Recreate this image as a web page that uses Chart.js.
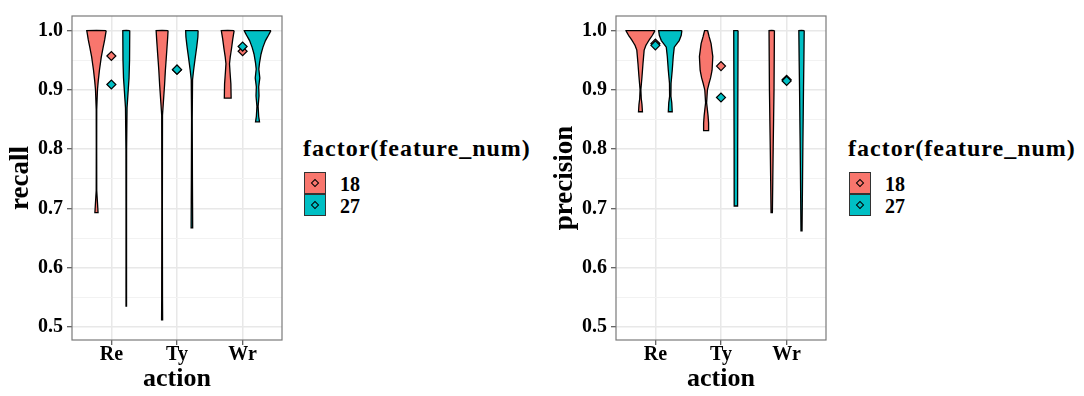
<!DOCTYPE html>
<html>
<head>
<meta charset="utf-8">
<script src="https://cdn.jsdelivr.net/npm/chart.js@4.4.1/dist/chart.umd.min.js"></script>
<style>
  html, body { margin: 0; padding: 0; background: #fff; }
  body { width: 1084px; height: 396px; position: relative; overflow: hidden;
         font-family: "Liberation Serif", "Times New Roman", serif; font-weight: bold; color: #000; }
  .panel { position: absolute; top: 0; width: 290px; height: 396px; }
  .legend { position: absolute; top: 0; width: 236px; height: 396px; }
  .legend .title { position: absolute; left: 0; top: 136px; font-size: 24px; line-height: 24px;
                   letter-spacing: 1px; white-space: nowrap; }
  .legend .key { position: absolute; left: 1px; width: 22px; height: 22px; box-sizing: border-box;
                 border: 1px solid #333; }
  .legend .key::after { content: ''; position: absolute; left: 50%; top: 50%; width: 4px; height: 4px;
                        border: 1px solid #000; transform: translate(-50%, -50%) rotate(45deg); }
  .legend .lab { position: absolute; left: 37px; font-size: 20px; line-height: 22px; }
</style>
</head>
<body>
<div class="panel" style="left:0px"><canvas id="recallChart" width="290" height="396"></canvas></div>
<div class="legend" id="recallLegend" style="left:303px"></div>
<div class="panel" style="left:544px"><canvas id="precisionChart" width="290" height="396"></canvas></div>
<div class="legend" id="precisionLegend" style="left:848px"></div>

<script>
const actions = ['Re', 'Ty', 'Wr'];
const featureNums = ['18', '27'];
const legendTitle = 'factor(feature_num)';
const fillColors = ['#F8766D', '#00BFC4'];

const yTickValues = [0.5, 0.6, 0.7, 0.8, 0.9, 1.0];
const yTickLabels = ['0.5', '0.6', '0.7', '0.8', '0.9', '1.0'];
const yMinorValues = [0.55, 0.65, 0.75, 0.85, 0.95];

// mean markers, one per action
const recallMean18 = [0.957, 0.934, 0.965];
const recallMean27 = [0.909, 0.934, 0.973];
const precisionMean18 = [0.978, 0.940, 0.917];
const precisionMean27 = [0.975, 0.887, 0.915];

// violin profiles: [value, half width of density (category units)], top to bottom
const recallRe18 = [[1.0, 0.148], [0.985, 0.126], [0.972, 0.102], [0.955, 0.073], [0.933, 0.045], [0.915, 0.027],
                    [0.9, 0.015], [0.867, 0.004], [0.8, 0.003], [0.73, 0.004], [0.71, 0.015], [0.693, 0.024]];
const recallRe27 = [[1.0, 0.053], [0.95, 0.05], [0.92, 0.042], [0.9, 0.03], [0.87, 0.012], [0.8, 0.005],
                    [0.7, 0.004], [0.6, 0.004], [0.535, 0.004]];
const recallTy18 = [[1.0, 0.091], [0.985, 0.083], [0.961, 0.068], [0.933, 0.05], [0.909, 0.038], [0.88, 0.02],
                    [0.857, 0.006], [0.7, 0.004], [0.55, 0.006], [0.512, 0.008]];
const recallTy27 = [[1.0, 0.095], [0.989, 0.091], [0.972, 0.073], [0.956, 0.053], [0.933, 0.026], [0.917, 0.01],
                    [0.85, 0.005], [0.75, 0.008], [0.667, 0.012]];
const recallWr18 = [[1.0, 0.098], [0.985, 0.076], [0.97, 0.058], [0.955, 0.038], [0.944, 0.027], [0.93, 0.035],
                    [0.91, 0.048], [0.886, 0.052]];
const recallWr27 = [[1.0, 0.205], [0.992, 0.167], [0.983, 0.121], [0.972, 0.083], [0.96, 0.053], [0.945, 0.03],
                    [0.935, 0.02], [0.92, 0.035], [0.905, 0.018], [0.89, 0.023], [0.872, 0.009], [0.855, 0.018],
                    [0.846, 0.03]];

const precisionRe18 = [[1.0, 0.223], [0.992, 0.182], [0.983, 0.126], [0.975, 0.083], [0.967, 0.056], [0.944, 0.038],
                       [0.922, 0.023], [0.9, 0.006], [0.885, 0.012], [0.875, 0.023], [0.863, 0.03]];
const precisionRe27 = [[1.0, 0.177], [0.992, 0.167], [0.983, 0.136], [0.972, 0.061], [0.956, 0.045], [0.933, 0.03],
                       [0.911, 0.012], [0.889, 0.01], [0.878, 0.023], [0.863, 0.03]];
const precisionTy18 = [[1.0, 0.023], [0.99, 0.045], [0.978, 0.076], [0.956, 0.102], [0.933, 0.091], [0.92, 0.068],
                       [0.911, 0.045], [0.9, 0.02], [0.878, 0.008], [0.856, 0.03], [0.844, 0.038], [0.831, 0.038]];
const precisionTy27 = [[1.0, 0.033], [0.9, 0.03], [0.8, 0.027], [0.704, 0.026]];
const precisionWr18 = [[1.0, 0.041], [0.9, 0.035], [0.8, 0.022], [0.693, 0.01]];
const precisionWr27 = [[1.0, 0.041], [0.95, 0.036], [0.9, 0.03], [0.8, 0.02], [0.662, 0.008]];

const dodge = 0.227;
const serif = '"Liberation Serif", "Times New Roman", serif';
Chart.defaults.font.family = serif;
Chart.defaults.color = '#000';

function violinPoints(profile, centre) {
    const right = profile.map(p => ({x: centre + p[1], y: p[0]}));
    const left = profile.slice().reverse().map(p => ({x: centre - p[1], y: p[0]}));
    return right.concat(left, [right[0]]);
}

function violinSet(profile, centre, g) {
    return {
        data: violinPoints(profile, centre),
        showLine: true,
        fill: 'shape',
        tension: 0.0001,   // keeps Chart.js off its min/max fast path, so outlines stay exact
        capBezierPoints: false,
        backgroundColor: fillColors[g],
        borderColor: '#000',
        borderWidth: 1.3,
        borderJoinStyle: 'miter',
        pointRadius: 0
    };
}

function meanSet(means, g) {
    return {
        data: means.map((m, i) => ({x: i, y: m})),
        showLine: false,
        pointStyle: 'rectRot',
        pointRadius: 4.5,
        backgroundColor: fillColors[g],
        borderColor: '#000',
        borderWidth: 1.2
    };
}

function buildDatasets(v18, v27, m18, m27) {
    // first datasets are drawn on top
    const sets = [meanSet(m27, 1), meanSet(m18, 0)];
    v18.forEach((v, i) => sets.push(violinSet(v, i - dodge, 0)));
    v27.forEach((v, i) => sets.push(violinSet(v, i + dodge, 1)));
    return sets;
}

const panelBorder = {
    id: 'panelBorder',
    afterDatasetsDraw(chart) {
        const {ctx, chartArea: a} = chart;
        ctx.save();
        ctx.strokeStyle = '#7a7a7a';
        ctx.lineWidth = 1.2;
        ctx.strokeRect(a.left, a.top, a.right - a.left, a.bottom - a.top);
        ctx.restore();
    }
};

function makeOptions(yTitle) {
    return {
        responsive: false,
        animation: false,
        devicePixelRatio: 1,
        events: [],
        layout: {padding: {top: 12, right: 8, bottom: 0, left: 0}},
        plugins: {legend: {display: false}, tooltip: {enabled: false}},
        scales: {
            x: {
                type: 'linear',
                min: -0.6,
                max: 2.6,
                afterBuildTicks: s => { s.ticks = actions.map((a, i) => ({value: i})); },
                afterFit: s => { s.height = 56; },
                ticks: {
                    callback: v => actions[v],
                    autoSkip: false,
                    maxRotation: 0,
                    padding: -2,
                    color: '#000',
                    font: {size: 20, weight: 'bold'}
                },
                grid: {color: '#E8E8E8', lineWidth: 1.5, tickColor: '#333', tickLength: 5, tickWidth: 1},
                border: {display: false},
                title: {
                    display: true, text: 'action', color: '#000',
                    font: {size: 26, weight: 'bold'},
                    padding: {top: 0, bottom: 1}
                }
            },
            y: {
                type: 'linear',
                min: 0.478,
                max: 1.0245,
                afterBuildTicks: s => {
                    const major = yTickValues.map(v => ({value: v, minor: false}));
                    const minor = yMinorValues.map(v => ({value: v, minor: true}));
                    s.ticks = major.concat(minor).sort((a, b) => a.value - b.value);
                },
                afterFit: s => { s.width = 72; },
                ticks: {
                    callback: (v, i, ticks) => ticks[i].minor ? '' : yTickLabels[yTickValues.indexOf(v)],
                    autoSkip: false,
                    padding: 4,
                    color: '#000',
                    font: {size: 20, weight: 'bold'}
                },
                grid: {
                    color: ctx => ctx.tick && ctx.tick.minor ? '#F2F2F2' : '#E8E8E8',
                    lineWidth: ctx => ctx.tick && ctx.tick.minor ? 1 : 1.5,
                    tickColor: ctx => ctx.tick && ctx.tick.minor ? 'rgba(0,0,0,0)' : '#333',
                    tickLength: 5,
                    tickWidth: 1
                },
                border: {display: false},
                title: {
                    display: true, text: yTitle, color: '#000',
                    font: {size: 27, weight: 'bold'},
                    padding: {top: 5, bottom: 0}
                }
            }
        }
    };
}

function buildLegend(el) {
    const t = document.createElement('div');
    t.className = 'title';
    t.textContent = legendTitle;
    el.appendChild(t);
    featureNums.forEach((f, i) => {
        const top = 172 + i * 22;
        const k = document.createElement('div');
        k.className = 'key';
        k.style.top = top + 'px';
        k.style.background = fillColors[i];
        el.appendChild(k);
        const l = document.createElement('div');
        l.className = 'lab';
        l.style.top = (top + 0.5) + 'px';
        l.textContent = f;
        el.appendChild(l);
    });
}

new Chart(document.getElementById('recallChart').getContext('2d'), {
    type: 'scatter',
    data: {datasets: buildDatasets([recallRe18, recallTy18, recallWr18], [recallRe27, recallTy27, recallWr27],
                                   recallMean18, recallMean27)},
    options: makeOptions('recall'),
    plugins: [panelBorder]
});

new Chart(document.getElementById('precisionChart').getContext('2d'), {
    type: 'scatter',
    data: {datasets: buildDatasets([precisionRe18, precisionTy18, precisionWr18],
                                   [precisionRe27, precisionTy27, precisionWr27],
                                   precisionMean18, precisionMean27)},
    options: makeOptions('precision'),
    plugins: [panelBorder]
});

buildLegend(document.getElementById('recallLegend'));
buildLegend(document.getElementById('precisionLegend'));
</script>
</body>
</html>
